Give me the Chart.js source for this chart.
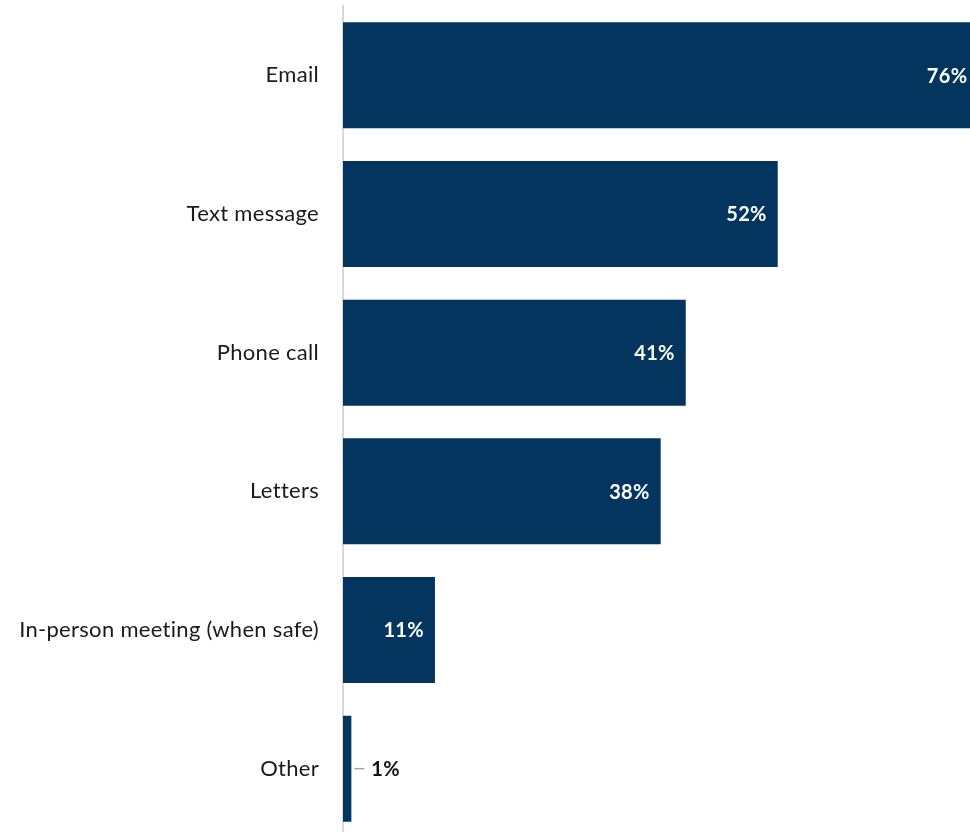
<!DOCTYPE html>
<html>
<head>
<meta charset="utf-8">
<script src="https://cdn.jsdelivr.net/npm/chart.js@4/dist/chart.umd.min.js"></script>
<style>
  html, body { margin: 0; padding: 0; background: #ffffff; overflow: hidden; }
  canvas { display: block; }
</style>
</head>
<body>
<canvas id="chart" width="970" height="838"></canvas>
<script>
// Preferred contact methods (share of respondents, %)
const categories = ['Email', 'Text message', 'Phone call', 'Letters', 'In-person meeting (when safe)', 'Other'];
const shares = [76, 52, 41, 38, 11, 1];

const BAR_COLOR = '#03355F';

// Slight letter spacing keeps "ti" from turning into a ligature
const noLigatures = {
  id: 'noLigatures',
  beforeDraw(chart) { chart.ctx.letterSpacing = '0.3px'; }
};

// Value labels: white inside the bar end, or outside with a short leader for tiny bars
const valueLabels = {
  id: 'valueLabels',
  afterDatasetsDraw(chart) {
    const ctx = chart.ctx;
    const meta = chart.getDatasetMeta(0);
    ctx.save();
    ctx.font = 'bold 20px Lato';
    ctx.textBaseline = 'middle';
    meta.data.forEach((bar, i) => {
      const v = shares[i];
      const text = v + '%';
      if (v < 5) {
        ctx.strokeStyle = '#a6a6a6';
        ctx.lineWidth = 1.5;
        ctx.beginPath();
        ctx.moveTo(bar.x + 3, bar.y);
        ctx.lineTo(bar.x + 13, bar.y);
        ctx.stroke();
        ctx.fillStyle = '#111111';
        ctx.textAlign = 'left';
        ctx.fillText(text, bar.x + 20, bar.y + 1);
      } else {
        ctx.fillStyle = '#ffffff';
        ctx.textAlign = 'right';
        ctx.fillText(text, bar.x - 11, bar.y + 1);
      }
    });
    ctx.restore();
  }
};

new Chart(document.getElementById('chart'), {
  type: 'bar',
  data: {
    labels: categories,
    datasets: [{
      data: shares,
      backgroundColor: BAR_COLOR,
      borderWidth: 0,
      categoryPercentage: 1,
      barPercentage: 0.765
    }]
  },
  options: {
    indexAxis: 'y',
    responsive: false,
    animation: false,
    devicePixelRatio: 1,
    layout: { padding: { top: 6, right: 0, bottom: 0, left: 0 } },
    plugins: {
      legend: { display: false },
      tooltip: { enabled: false }
    },
    scales: {
      x: {
        display: false,
        min: 0,
        max: 75
      },
      y: {
        grid: { display: false, drawTicks: false },
        border: { display: true, color: '#d9d9d9', width: 2 },
        ticks: {
          color: '#1a1a1a',
          padding: 24,
          font: { family: 'Lato', size: 22 }
        },
        afterFit(scale) {
          scale.width = 343;
          scale.paddingTop = 0;
          scale.paddingBottom = 0;
        }
      }
    }
  },
  plugins: [noLigatures, valueLabels]
});
</script>
</body>
</html>
